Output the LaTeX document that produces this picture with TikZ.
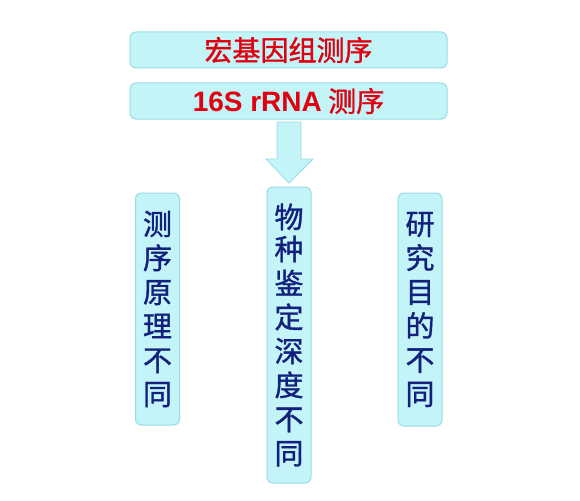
\documentclass[tikz,border=0pt]{standalone}
\usepackage{fontspec}
\newfontfamily\cjk[FakeBold=1.2]{Noto Sans CJK SC}
\newfontfamily\lat{Liberation Sans}
\definecolor{boxfill}{HTML}{C2F4F8}
\definecolor{boxline}{HTML}{9ADCE6}
\definecolor{navy}{HTML}{14207E}
\definecolor{titlered}{HTML}{E0000F}
\begin{document}
\begin{tikzpicture}[x=1pt,y=-1pt,
  box/.style={draw=boxline, line width=1pt, fill=boxfill, rounded corners=6pt, inner sep=0pt},
  titlebox/.style={box, minimum width=317pt, minimum height=36pt, text=titlered, font=\cjk\fontsize{28}{30}\selectfont},
  vbox/.style={box, minimum width=44pt, text=navy, align=center, font=\cjk\fontsize{29}{34}\selectfont}]
\useasboundingbox[fill=white] (0,0) rectangle (580,500);
\node[titlebox] (t1) at (288.5,50) {宏基因组测序};
\node[titlebox] (t2) at (288.5,101) {{\lat\bfseries 16S rRNA} 测序};
\node[vbox, minimum height=232pt] (a) at (157.5,309) {测\\序\\原\\理\\不\\同};
\node[vbox, minimum height=296pt] (b) at (289,335) {\raisebox{-2pt}{物}\\种\\鉴\\定\\深\\度\\不\\同};
\node[vbox, minimum height=233pt] (c) at (420,309.5) {研\\究\\目\\的\\不\\同};
\draw[boxline, fill=boxfill, line width=0.8pt] (277,122) -- (301,122) -- (301,159) -- (313,159) -- (289,183) -- (266,159) -- (277,159) -- cycle;
\end{tikzpicture}
\end{document}
